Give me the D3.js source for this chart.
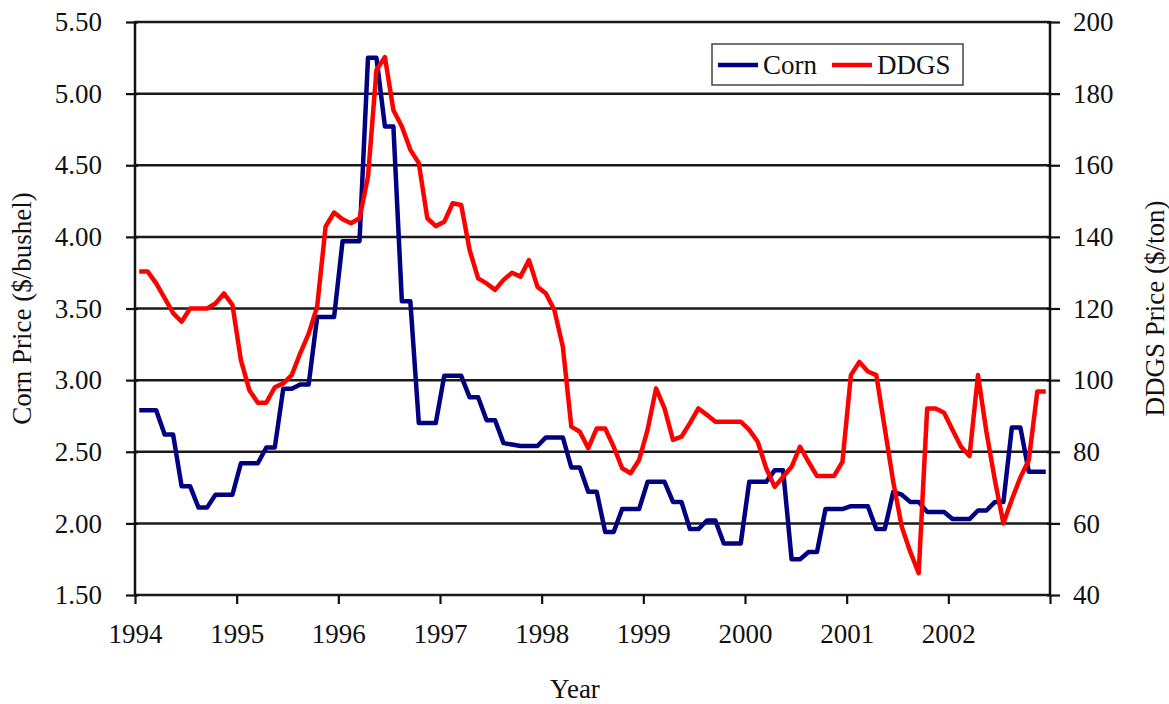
<!DOCTYPE html>
<html>
<head>
<meta charset="utf-8">
<script src="https://cdn.jsdelivr.net/npm/d3@7"></script>
<style>
    body { margin: 0; background: #fff; }
    text { font-family: "Liberation Serif", "Times New Roman", serif; fill: #111; }
</style>
</head>
<body>
<div id="chart"></div>
<script>
// monthly prices, Jan 1994 - Dec 2002
var years = [1994, 1995, 1996, 1997, 1998, 1999, 2000, 2001, 2002];

var corn = [
    2.79, 2.79, 2.79, 2.62, 2.62, 2.26, 2.26, 2.11, 2.11, 2.20, 2.20, 2.20,
    2.42, 2.42, 2.42, 2.53, 2.53, 2.94, 2.94, 2.97, 2.97, 3.44, 3.44, 3.44,
    3.97, 3.97, 3.97, 5.25, 5.25, 4.77, 4.77, 3.55, 3.55, 2.70, 2.70, 2.70,
    3.03, 3.03, 3.03, 2.88, 2.88, 2.72, 2.72, 2.56, 2.55, 2.54, 2.54, 2.54,
    2.60, 2.60, 2.60, 2.39, 2.39, 2.22, 2.22, 1.94, 1.94, 2.10, 2.10, 2.10,
    2.29, 2.29, 2.29, 2.15, 2.15, 1.96, 1.96, 2.02, 2.02, 1.86, 1.86, 1.86,
    2.29, 2.29, 2.29, 2.37, 2.37, 1.75, 1.75, 1.80, 1.80, 2.10, 2.10, 2.10,
    2.12, 2.12, 2.12, 1.96, 1.96, 2.22, 2.20, 2.15, 2.15, 2.08, 2.08, 2.08,
    2.03, 2.03, 2.03, 2.09, 2.09, 2.15, 2.15, 2.67, 2.67, 2.36, 2.36, 2.36
];

var ddgs = [
    130.3, 130.3, 127.0, 122.9, 118.7, 116.3, 120.0, 120.0, 120.0, 121.4, 124.2, 121.0,
    105.6, 97.2, 93.7, 93.7, 98.0, 99.1, 101.4, 107.5, 113.0, 120.5, 142.9, 146.8,
    144.9, 143.8, 145.2, 156.8, 186.6, 190.2, 175.4, 170.8, 164.3, 160.6, 145.2, 143.0,
    144.2, 149.4, 148.9, 136.3, 128.4, 127.0, 125.2, 128.0, 130.0, 128.9, 133.5, 126.1,
    124.2, 119.6, 109.3, 87.0, 85.6, 81.0, 86.5, 86.5, 81.4, 75.4, 74.0, 77.7,
    86.1, 97.7, 92.1, 83.3, 84.2, 88.0, 92.1, 90.3, 88.4, 88.4, 88.4, 88.4,
    86.1, 82.8, 75.4, 70.2, 73.0, 75.8, 81.4, 77.2, 73.2, 73.2, 73.2, 77.2,
    101.4, 105.1, 102.4, 101.4, 86.5, 71.6, 59.1, 52.1, 46.1, 92.1, 92.1, 90.9,
    86.1, 81.4, 78.8, 101.4, 85.5, 72.0, 60.0, 66.7, 72.8, 77.7, 96.8, 96.8
];

var cornTicks = [1.5, 2.0, 2.5, 3.0, 3.5, 4.0, 4.5, 5.0, 5.5];
var ddgsTicks = [40, 60, 80, 100, 120, 140, 160, 180, 200];

function init() {
    var W = 1169, H = 704;
    var left = 135, right = 1050, top = 22, bottom = 595;

    var svg = d3.select("#chart")
        .append("svg")
        .attr("width", W)
        .attr("height", H);

    svg.append("rect").attr("width", W).attr("height", H).attr("fill", "#fff");

    var xScale = d3.scaleLinear().domain([1994, 2003]).range([left, right]);
    var yLeft = d3.scaleLinear().domain([1.5, 5.5]).range([bottom, top]);
    var yRight = d3.scaleLinear().domain([40, 200]).range([bottom, top]);

    // month i sits in the middle of its month
    function xOf(i) { return xScale(1994 + (i + 0.5) / 12); }

    // gridlines
    svg.append("g")
        .selectAll("line")
        .data(cornTicks)
        .enter().append("line")
        .attr("x1", left).attr("x2", right)
        .attr("y1", function(d) { return yLeft(d); })
        .attr("y2", function(d) { return yLeft(d); })
        .attr("stroke", "#1a1a1a")
        .attr("stroke-width", 2.5);

    // left axis
    var axL = svg.append("g")
        .attr("transform", "translate(" + left + ",0)")
        .call(d3.axisLeft(yLeft).tickValues(cornTicks).tickFormat(d3.format(".2f")).tickSize(9).tickPadding(24));
    // right axis
    var axR = svg.append("g")
        .attr("transform", "translate(" + right + ",0)")
        .call(d3.axisRight(yRight).tickValues(ddgsTicks).tickSize(10).tickPadding(13));
    // bottom axis
    var axB = svg.append("g")
        .attr("transform", "translate(0," + bottom + ")")
        .call(d3.axisBottom(xScale).tickValues(years.concat([2003]))
            .tickFormat(function(d) { return d < 2003 ? d : ""; })
            .tickSize(9).tickPadding(20));

    [axL, axR, axB].forEach(function(ax) {
        ax.select(".domain").remove();
        ax.selectAll("line").attr("stroke", "#111").attr("stroke-width", 2.2);
        ax.selectAll("text")
            .attr("font-family", "Liberation Serif, serif")
            .attr("font-size", 27)
            .attr("fill", "#111");
    });
    axL.selectAll(".tick line").attr("x2", -9).attr("x1", 3);
    axR.selectAll(".tick line").attr("x1", -3);

    // vertical axis lines
    [left, right].forEach(function(x) {
        svg.append("line")
            .attr("x1", x).attr("x2", x)
            .attr("y1", top - 1).attr("y2", bottom + 1)
            .attr("stroke", "#111")
            .attr("stroke-width", 2.5);
    });

    var cornLine = d3.line()
        .x(function(d, i) { return xOf(i); })
        .y(function(d) { return yLeft(d); });

    var ddgsLine = d3.line()
        .x(function(d, i) { return xOf(i); })
        .y(function(d) { return yRight(d); });

    svg.append("path")
        .datum(corn)
        .attr("d", cornLine)
        .attr("fill", "none")
        .attr("stroke", "#000080")
        .attr("stroke-width", 4.5)
        .attr("stroke-linejoin", "round");

    svg.append("path")
        .datum(ddgs)
        .attr("d", ddgsLine)
        .attr("fill", "none")
        .attr("stroke", "#ff0000")
        .attr("stroke-width", 4.5)
        .attr("stroke-linejoin", "round");

    // axis titles
    svg.append("text")
        .attr("transform", "translate(31," + (top + bottom) / 2 + ") rotate(-90)")
        .attr("text-anchor", "middle")
        .attr("font-size", 27)
        .text("Corn Price ($/bushel)");

    svg.append("text")
        .attr("transform", "translate(1164," + (top + bottom) / 2 + ") rotate(-90)")
        .attr("text-anchor", "middle")
        .attr("font-size", 27)
        .text("DDGS Price ($/ton)");

    svg.append("text")
        .attr("x", 575)
        .attr("y", 698)
        .attr("text-anchor", "middle")
        .attr("font-size", 27)
        .text("Year");

    // legend
    var lg = svg.append("g");
    lg.append("rect")
        .attr("x", 712).attr("y", 44)
        .attr("width", 251).attr("height", 41)
        .attr("fill", "#fff")
        .attr("stroke", "#444")
        .attr("stroke-width", 1.5);
    var items = [
        { name: "Corn", color: "#000080", x: 718 },
        { name: "DDGS", color: "#ff0000", x: 832 }
    ];
    items.forEach(function(it) {
        lg.append("line")
            .attr("x1", it.x).attr("x2", it.x + 40)
            .attr("y1", 65).attr("y2", 65)
            .attr("stroke", it.color)
            .attr("stroke-width", 4.5);
        lg.append("text")
            .attr("x", it.x + 45)
            .attr("y", 74)
            .attr("font-size", 27)
            .text(it.name);
    });
}

window.onload = init;
</script>
</body>
</html>
